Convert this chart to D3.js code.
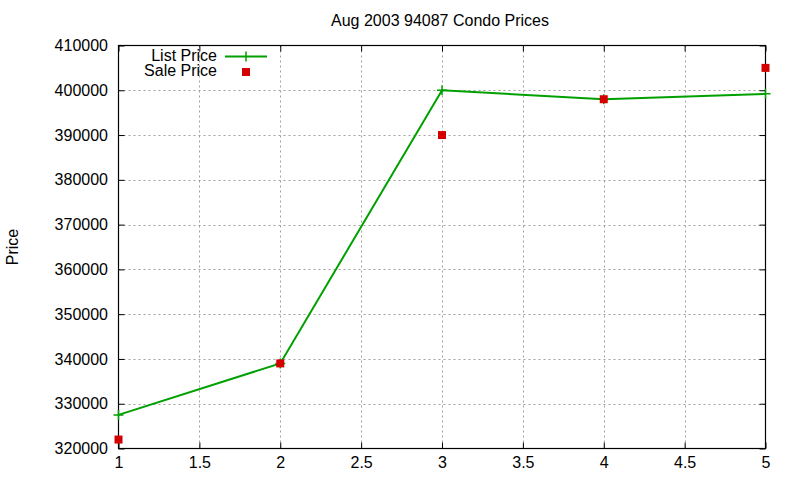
<!DOCTYPE html>
<html><head><meta charset="utf-8">
<script src="https://cdn.jsdelivr.net/npm/d3@7"></script>
<style>body{margin:0;background:#fff}text{font-family:"Liberation Sans",Arial,sans-serif;fill:#000}</style>
</head><body><svg id="c" width="800" height="480"></svg>
<script>
const xValues = [1, 2, 3, 4, 5];
const listPrice = [327500, 339000, 400000, 398000, 399200];
const salePrice = [322000, 339000, 390000, 398000, 405000];
const xTicks = [1, 1.5, 2, 2.5, 3, 3.5, 4, 4.5, 5];
const yTicks = [320000, 330000, 340000, 350000, 360000, 370000, 380000, 390000, 400000, 410000];

const svg = d3.select("#c");
const L = 118.5, R = 765.5, T = 45.5, B = 448.5;
const x = d3.scaleLinear().domain([1, 5]).range([L, R]);
const y = d3.scaleLinear().domain([320000, 410000]).range([B, T]);

// grid
const g = svg.append("g");
g.selectAll("line.gx").data(xTicks.slice(1, -1)).join("line")
  .attr("x1", d => Math.round(x(d)) + 0.5).attr("x2", d => Math.round(x(d)) + 0.5)
  .attr("y1", T).attr("y2", B)
  .attr("stroke", "#a0a0a0").attr("stroke-dasharray", "2,3");
g.selectAll("line.gy").data(yTicks.slice(1, -1)).join("line")
  .attr("y1", d => Math.round(y(d)) + 0.5).attr("y2", d => Math.round(y(d)) + 0.5)
  .attr("x1", L).attr("x2", R)
  .attr("stroke", "#a0a0a0").attr("stroke-dasharray", "2,3");

// axes (inward ticks, mirrored)
const fmt = d3.format("d");
svg.append("g").attr("transform", `translate(0,${B})`)
  .call(d3.axisBottom(x).tickValues(xTicks).tickSizeInner(-6).tickSizeOuter(0).tickPadding(8).tickFormat(d => d))
  .call(a => a.select(".domain").remove());
svg.append("g").attr("transform", `translate(0,${T})`)
  .call(d3.axisTop(x).tickValues(xTicks).tickSizeInner(-6).tickSizeOuter(0).tickFormat(""))
  .call(a => a.select(".domain").remove());
svg.append("g").attr("transform", `translate(${L},0)`)
  .call(d3.axisLeft(y).tickValues(yTicks).tickSizeInner(-6).tickSizeOuter(0).tickPadding(10.5).tickFormat(fmt))
  .call(a => a.select(".domain").remove());
svg.append("g").attr("transform", `translate(${R},0)`)
  .call(d3.axisRight(y).tickValues(yTicks).tickSizeInner(-6).tickSizeOuter(0).tickFormat(""))
  .call(a => a.select(".domain").remove());
svg.selectAll(".tick text").attr("font-size", 16).attr("font-family", "Liberation Sans, Arial, sans-serif").attr("fill", "#000");
svg.selectAll(".tick line").attr("stroke", "#000");

svg.append("rect").attr("x", L).attr("y", T).attr("width", R - L).attr("height", B - T)
  .attr("fill", "none").attr("stroke", "#000").attr("stroke-width", 1.2);

// list price line
const pts = xValues.map((v, i) => [v, listPrice[i]]);
svg.append("path").datum(pts)
  .attr("d", d3.line().x(d => x(d[0])).y(d => y(d[1])))
  .attr("fill", "none").attr("stroke", "#00a000").attr("stroke-width", 2);
svg.selectAll("path.plus").data(pts).join("path")
  .attr("d", d => `M${x(d[0]) - 5},${y(d[1])}h10M${x(d[0])},${y(d[1]) - 5}v10`)
  .attr("stroke", "#00a000").attr("stroke-width", 1.5);

// sale price squares
svg.selectAll("rect.sale").data(xValues.map((v, i) => [v, salePrice[i]])).join("rect")
  .attr("x", d => x(d[0]) - 4).attr("y", d => y(d[1]) - 4)
  .attr("width", 8).attr("height", 8).attr("fill", "#d40000");

// legend
svg.append("text").attr("x", 217).attr("y", 60.5).attr("text-anchor", "end").attr("font-size", 16).text("List Price");
svg.append("line").attr("x1", 225).attr("x2", 267).attr("y1", 56.5).attr("y2", 56.5).attr("stroke", "#00a000").attr("stroke-width", 2);
svg.append("path").attr("d", "M246,51.5v10").attr("stroke", "#00a000").attr("stroke-width", 1.5);
svg.append("text").attr("x", 217).attr("y", 76).attr("text-anchor", "end").attr("font-size", 16).text("Sale Price");
svg.append("rect").attr("x", 242).attr("y", 68).attr("width", 8).attr("height", 8).attr("fill", "#d40000");

// title and y label
svg.append("text").attr("x", 440).attr("y", 26).attr("text-anchor", "middle").attr("font-size", 16).text("Aug 2003 94087 Condo Prices");
svg.append("text").attr("transform", "translate(18,247) rotate(-90)").attr("text-anchor", "middle").attr("font-size", 16).text("Price");
</script></body></html>
